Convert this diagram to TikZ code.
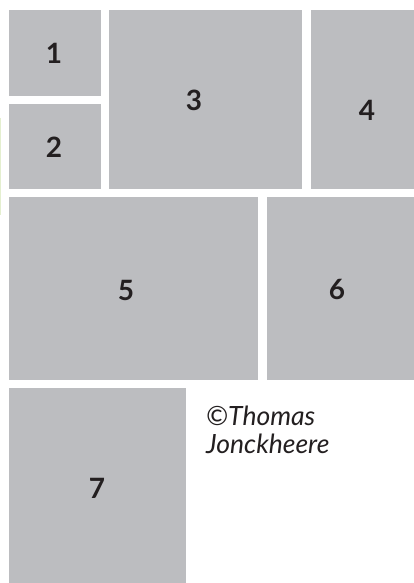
\documentclass[tikz,border=0pt]{standalone}
\usepackage{fontspec}
\setmainfont{Lato}
\definecolor{boxgrey}{HTML}{BCBDC0}
\definecolor{ink}{HTML}{231F20}
\definecolor{edgegreen}{HTML}{E4EFCF}
\begin{document}
\begin{tikzpicture}[x=1pt,y=-1pt,
  panel/.style={fill=boxgrey,draw=none},
  num/.style={font=\fontsize{28}{28}\selectfont\bfseries,text=ink,inner sep=0pt},
  credit/.style={font=\fontsize{26.5}{28}\selectfont\itshape,text=ink,inner sep=0pt,anchor=base west}]
\useasboundingbox (0,0) rectangle (414,583);
\fill[white] (0,0) rectangle (414,583);
\draw[edgegreen,line width=1.2pt] (0.6,118) -- (0.6,215);
\path[panel] (9,10) rectangle (101,96);
\path[panel] (9,104) rectangle (101,189);
\path[panel] (109,10) rectangle (302,189);
\path[panel] (311,10) rectangle (414,189);
\path[panel] (9,197) rectangle (258,380);
\path[panel] (267,197) rectangle (414,380);
\path[panel] (9,388) rectangle (186,583);
\node[num] (n1) at (54,53) {1};
\node[num] (n2) at (54,147) {2};
\node[num] (n3) at (194,100) {3};
\node[num] (n4) at (367,110) {4};
\node[num] (n5) at (126,290) {5};
\node[num] (n6) at (337,289) {6};
\node[num] (n7) at (97,488) {7};
\node[credit] (c1) at (206,425) {©Thomas};
\node[credit] (c2) at (206,453) {Jonckheere};
\end{tikzpicture}
\end{document}
